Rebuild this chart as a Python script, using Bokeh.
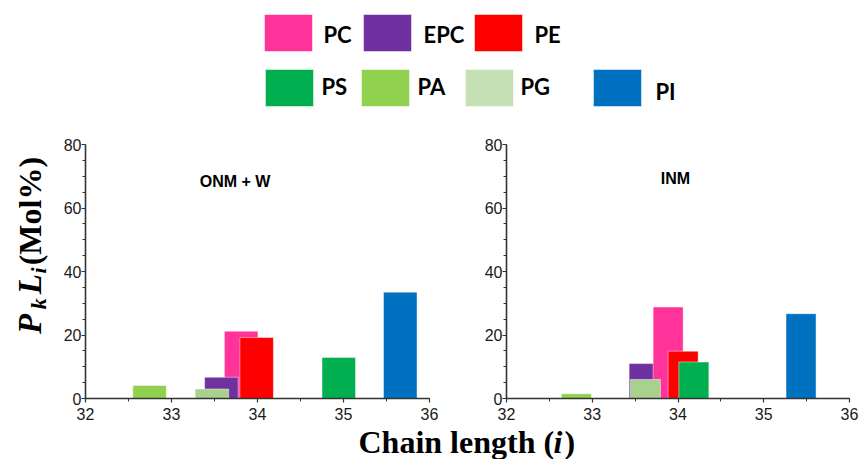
import math
from bokeh.plotting import figure
from bokeh.models import Range1d, SingleIntervalTicker, Label, ColumnDataSource
from bokeh.layouts import column, row
from bokeh.core.properties import value
from bokeh.embed import file_html
from bokeh.resources import INLINE

# ---------------- data ----------------
classes = ["PC", "EPC", "PE", "PS", "PA", "PG", "PI"]
class_colors = {"PC": "#FF3399", "EPC": "#7030A0", "PE": "#FF0000", "PS": "#00B050",
                "PA": "#92D050", "PG": "#A9D18E", "PI": "#0070C0"}
legend_colors = {"PC": "#FF3399", "EPC": "#7030A0", "PE": "#FF0000", "PS": "#00B050",
                 "PA": "#92D050", "PG": "#C5E0B4", "PI": "#0070C0"}

# panel 1: ONM + W (listed in drawing order)
onm_class = ["PA", "PI", "PS", "PC", "EPC", "PG", "PE"]
onm_chain = [32.745, 35.66, 34.945, 33.81, 33.58, 33.47, 33.99]
onm_value = [4.1, 33.5, 12.9, 21.2, 6.7, 3.0, 19.2]
onm_width = 0.39

# panel 2: INM (listed in drawing order)
inm_class = ["PA", "PI", "EPC", "PC", "PG", "PE", "PS"]
inm_chain = [32.815, 35.435, 33.605, 33.885, 33.62, 34.06, 34.185]
inm_value = [1.5, 26.7, 11.0, 28.8, 6.0, 14.9, 11.5]
inm_width = 0.35

x_ticks_interval = 1
y_ticks_interval = 20

AX = "#333333"
TXT = "#1a1a1a"
MID_H = 307


def panel(width, left, right, title, tx, ty, cls, chain, val, w):
    p = figure(width=width, height=MID_H, output_backend="svg", toolbar_location=None,
               x_range=Range1d(32, 36), y_range=Range1d(0, 80),
               min_border_left=left, min_border_right=right,
               min_border_top=26, min_border_bottom=27)
    p.outline_line_color = None
    p.xgrid.visible = False
    p.ygrid.visible = False
    p.background_fill_color = "white"
    p.border_fill_color = "white"
    src = ColumnDataSource(dict(x=chain, top=val, color=[class_colors[c] for c in cls]))
    p.vbar(x="x", top="top", bottom=0, width=w, fill_color="color", source=src,
           line_color="white", line_alpha=0.45, line_width=1)
    p.xaxis.ticker = SingleIntervalTicker(interval=x_ticks_interval, num_minor_ticks=2)
    p.yaxis.ticker = SingleIntervalTicker(interval=y_ticks_interval, num_minor_ticks=4)
    for ax in (p.xaxis[0], p.yaxis[0]):
        ax.axis_line_color = AX
        ax.axis_line_width = 1.6
        ax.major_tick_line_color = AX
        ax.minor_tick_line_color = AX
        ax.major_tick_line_width = 1.2
        ax.minor_tick_line_width = 1
        ax.major_tick_in = 0
        ax.minor_tick_in = 0
        ax.major_label_text_font = "Liberation Sans"
        ax.major_label_text_font_size = "16px"
        ax.major_label_text_color = TXT
    p.xaxis.major_tick_out = 4
    p.xaxis.minor_tick_out = 3
    p.xaxis.major_label_standoff = 5
    p.yaxis.major_tick_out = 4
    p.yaxis.minor_tick_out = 3
    p.yaxis.major_label_standoff = 0
    p.add_layout(Label(x=tx, y=ty, text=title, text_align="center", text_baseline="middle",
                       text_font="Liberation Sans", text_font_style="bold",
                       text_font_size="16px", text_color="black"))
    return p


left = panel(408, 25, 39, "ONM + W", 33.74, 68.4, onm_class, onm_chain, onm_value, onm_width)
right = panel(396, 38, 15, "INM", 33.97, 69.3, inm_class, inm_chain, inm_value, inm_width)

# ---------------- y-axis label strip: P_k L_i (Mol%) ----------------
ylab = figure(width=60, height=MID_H, output_backend="svg", toolbar_location=None,
              x_range=Range1d(0, 60), y_range=Range1d(0, MID_H), min_border=0)
ylab.axis.visible = False
ylab.grid.visible = False
ylab.outline_line_color = None
ylab_text = ["P", "k", "L", "i", "(Mol%)"]
ylab_style = ["bold italic", "bold italic", "bold italic", "bold italic", "bold"]
ylab_size = ["33px", "22px", "33px", "22px", "32px"]
ylab_x = [29, 38, 29, 38, 29]
ylab_y = [78, 108, 126, 151, 161]
for t, st, sz, xx, yy in zip(ylab_text, ylab_style, ylab_size, ylab_x, ylab_y):
    ylab.text(x=[xx], y=[yy], text=[t], angle=math.pi / 2, text_align="left",
              text_baseline="middle", text_font=value("Liberation Serif"),
              text_font_style=st, text_font_size=sz, text_color="black")

# ---------------- legend ----------------
leg = figure(width=864, height=118, output_backend="svg", toolbar_location=None,
             x_range=Range1d(0, 864), y_range=Range1d(118, 0),
             min_border=0)
leg.axis.visible = False
leg.grid.visible = False
leg.outline_line_color = None
leg_x0 = [264, 363, 474, 265, 361, 465, 593]
leg_y0 = [14, 14, 14, 69, 69, 69, 69]
leg_tx = [323, 423, 534, 321, 417, 520, 655]
leg_ty = [34, 34, 34, 86, 86, 86, 91]
sw_w, sw_h = 48, 37
leg.rect(x=[x + sw_w / 2 for x in leg_x0], y=[y + sw_h / 2 for y in leg_y0],
         width=sw_w, height=sw_h, fill_color=[legend_colors[c] for c in classes],
         line_color="white", line_alpha=0.5, line_width=1)
leg.text(x=leg_tx, y=leg_ty, text=classes, text_align="left", text_baseline="middle",
         text_font=value("Lato"), text_font_style="bold", text_font_size="22px",
         text_color="black")

# ---------------- x label ----------------
xl = figure(width=864, height=34, output_backend="svg", toolbar_location=None,
            x_range=Range1d(0, 864), y_range=Range1d(34, 0), min_border=0)
xl.axis.visible = False
xl.grid.visible = False
xl.outline_line_color = None
xl_text = ["Chain length (", "i", ")"]
xl_style = ["bold", "bold italic", "bold"]
xl_x = [358, 553, 564]
for t, st, xx in zip(xl_text, xl_style, xl_x):
    xl.text(x=[xx], y=[16], text=[t], text_align="left", text_baseline="middle",
            text_font=value("Liberation Serif"), text_font_style=st, text_font_size="32px",
            text_color="black")

layout = column(leg, row(ylab, left, right), xl)
open("out.html", "w").write(file_html(layout, INLINE))
